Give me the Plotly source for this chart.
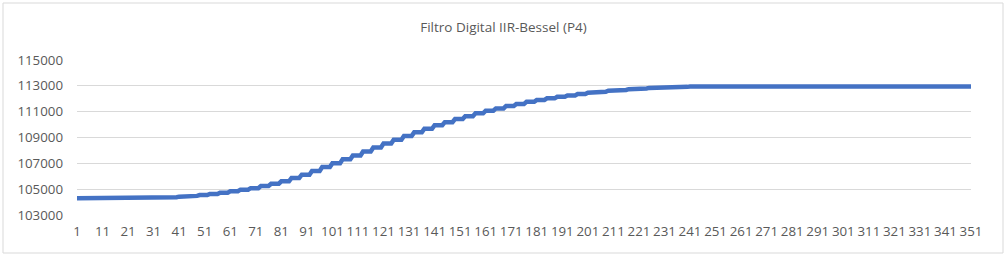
import plotly.graph_objects as go

# Sample index (categories 1..351)
samples = list(range(1, 352))

# Filter output values (staircase in groups of ~4 samples)
values = [
    104300, 104300, 104300, 104300,
    104300, 104300, 104300, 104300,
    104300, 104300, 104300, 104300,
    104300, 104300, 104300, 104300,
    104300, 104300, 104300, 104300,
    104300, 104300, 104300, 104300,
    104310, 104310, 104310, 104310,
    104320, 104320, 104320, 104320,
    104350, 104350, 104350, 104350,
    104380, 104380, 104380, 104380,
    104420, 104420, 104420, 104420,
    104480, 104480, 104480, 104480,
    104540, 104540, 104540, 104540,
    104630, 104630, 104630, 104630,
    104730, 104730, 104730, 104730,
    104840, 104840, 104840, 104840,
    104960, 104960, 104960, 104960,
    105080, 105080, 105080, 105080,
    105250, 105250, 105250, 105250,
    105420, 105420, 105420, 105420,
    105610, 105610, 105610, 105610,
    105870, 105870, 105870, 105870,
    106120, 106120, 106120, 106120,
    106410, 106410, 106410, 106410,
    106710, 106710, 106710, 106710,
    107010, 107010, 107010, 107010,
    107310, 107310, 107310, 107310,
    107610, 107610, 107610, 107610,
    107920, 107920, 107920, 107920,
    108230, 108230, 108230, 108230,
    108530, 108530, 108530, 108530,
    108830, 108830, 108830, 108830,
    109120, 109120, 109120, 109120,
    109400, 109400, 109400, 109400,
    109680, 109680, 109680, 109680,
    109950, 109950, 109950, 109950,
    110190, 110190, 110190, 110190,
    110430, 110430, 110430, 110430,
    110650, 110650, 110650, 110650,
    110870, 110870, 110870, 110870,
    111070, 111070, 111070, 111070,
    111250, 111250, 111250, 111250,
    111440, 111440, 111440, 111440,
    111600, 111600, 111600, 111600,
    111760, 111760, 111760, 111760,
    111910, 111910, 111910, 111910,
    112030, 112030, 112030, 112030,
    112150, 112150, 112150, 112150,
    112250, 112250, 112250, 112250,
    112360, 112360, 112360, 112360,
    112460, 112460, 112460, 112460,
    112540, 112540, 112540, 112540,
    112620, 112620, 112620, 112620,
    112680, 112680, 112680, 112680,
    112740, 112740, 112740, 112740,
    112800, 112800, 112800, 112800,
    112840, 112840, 112840, 112840,
    112880, 112880, 112880, 112880,
    112900, 112900, 112900, 112900,
    112920, 112920, 112920, 112920,
    112940, 112940, 112940, 112940,
    112960, 112960, 112960, 112960,
    112970, 112970, 112970, 112970,
    112980, 112980, 112980, 112980,
    112985, 112985, 112985, 112985,
    112990, 112990, 112990, 112990,
    112990, 112990, 112990, 112990,
    112990, 112990, 112990, 112990,
    112990, 112990, 112990, 112990,
    112980, 112980, 112980, 112980,
    112980, 112980, 112980, 112980,
    112975, 112975, 112975, 112975,
    112970, 112970, 112970, 112970,
    112965, 112965, 112965, 112965,
    112960, 112960, 112960, 112960,
    112960, 112960, 112960, 112960,
    112957, 112957, 112957, 112957,
    112955, 112955, 112955, 112955,
    112953, 112953, 112953, 112953,
    112951, 112951, 112951, 112951,
    112950, 112950, 112950, 112950,
    112950, 112950, 112950, 112950,
    112950, 112950, 112950, 112950,
    112950, 112950, 112950, 112950,
    112950, 112950, 112950, 112950,
    112950, 112950, 112950, 112950,
    112950, 112950, 112950, 112950,
    112950, 112950, 112950,
]

x_tick_vals = [1, 11, 21, 31, 41, 51, 61, 71, 81, 91, 101, 111, 121, 131, 141, 151,
               161, 171, 181, 191, 201, 211, 221, 231, 241, 251, 261, 271, 281, 291,
               301, 311, 321, 331, 341, 351]
x_tick_text = [str(v) for v in x_tick_vals]
y_tick_vals = [103000, 105000, 107000, 109000, 111000, 113000, 115000]
y_tick_text = [str(v) for v in y_tick_vals]

title_text = "Filtro Digital IIR-Bessel (P4)"

W, H = 1007, 257
ml, mr, mt, mb = 77, 36, 60, 42

fig = go.Figure()
fig.add_trace(go.Scatter(
    x=samples, y=values, mode="lines",
    line=dict(color="#4472C4", width=4.5),
    hoverinfo="x+y", showlegend=False,
))

font_fam = "Open Sans, Liberation Sans, sans-serif"

fig.update_layout(
    width=W, height=H,
    margin=dict(l=ml, r=mr, t=mt, b=mb),
    paper_bgcolor="white", plot_bgcolor="white",
    title=dict(text=title_text, x=0.5, xref="container", xanchor="center",
               y=1 - 27.5 / H, yanchor="middle",
               font=dict(family=font_fam, size=13.5, color="#595959")),
    xaxis=dict(range=[1, 351], tickmode="array", tickvals=x_tick_vals,
               ticktext=x_tick_text, showgrid=False, zeroline=False,
               showline=False, ticks="", ticklabelstandoff=7,
               tickfont=dict(family=font_fam, size=13.3, color="#595959")),
    yaxis=dict(range=[103000, 115000], tickmode="array", tickvals=y_tick_vals,
               ticktext=y_tick_text, showgrid=True, gridcolor="#D9D9D9",
               gridwidth=1, zeroline=False, showline=False, ticks="",
               ticklabelstandoff=13,
               tickfont=dict(family=font_fam, size=13.3, color="#595959")),
)

# Outer chart border
pw = W - ml - mr
ph = H - mt - mb
fig.add_shape(type="rect", xref="paper", yref="paper",
              x0=(3 - ml) / pw, x1=(1003 - ml) / pw,
              y0=(H - mb - 253) / ph, y1=(H - mb - 3) / ph,
              line=dict(color="#D9D9D9", width=1), fillcolor="rgba(0,0,0,0)",
              layer="below")

fig.write_html("out.html")
